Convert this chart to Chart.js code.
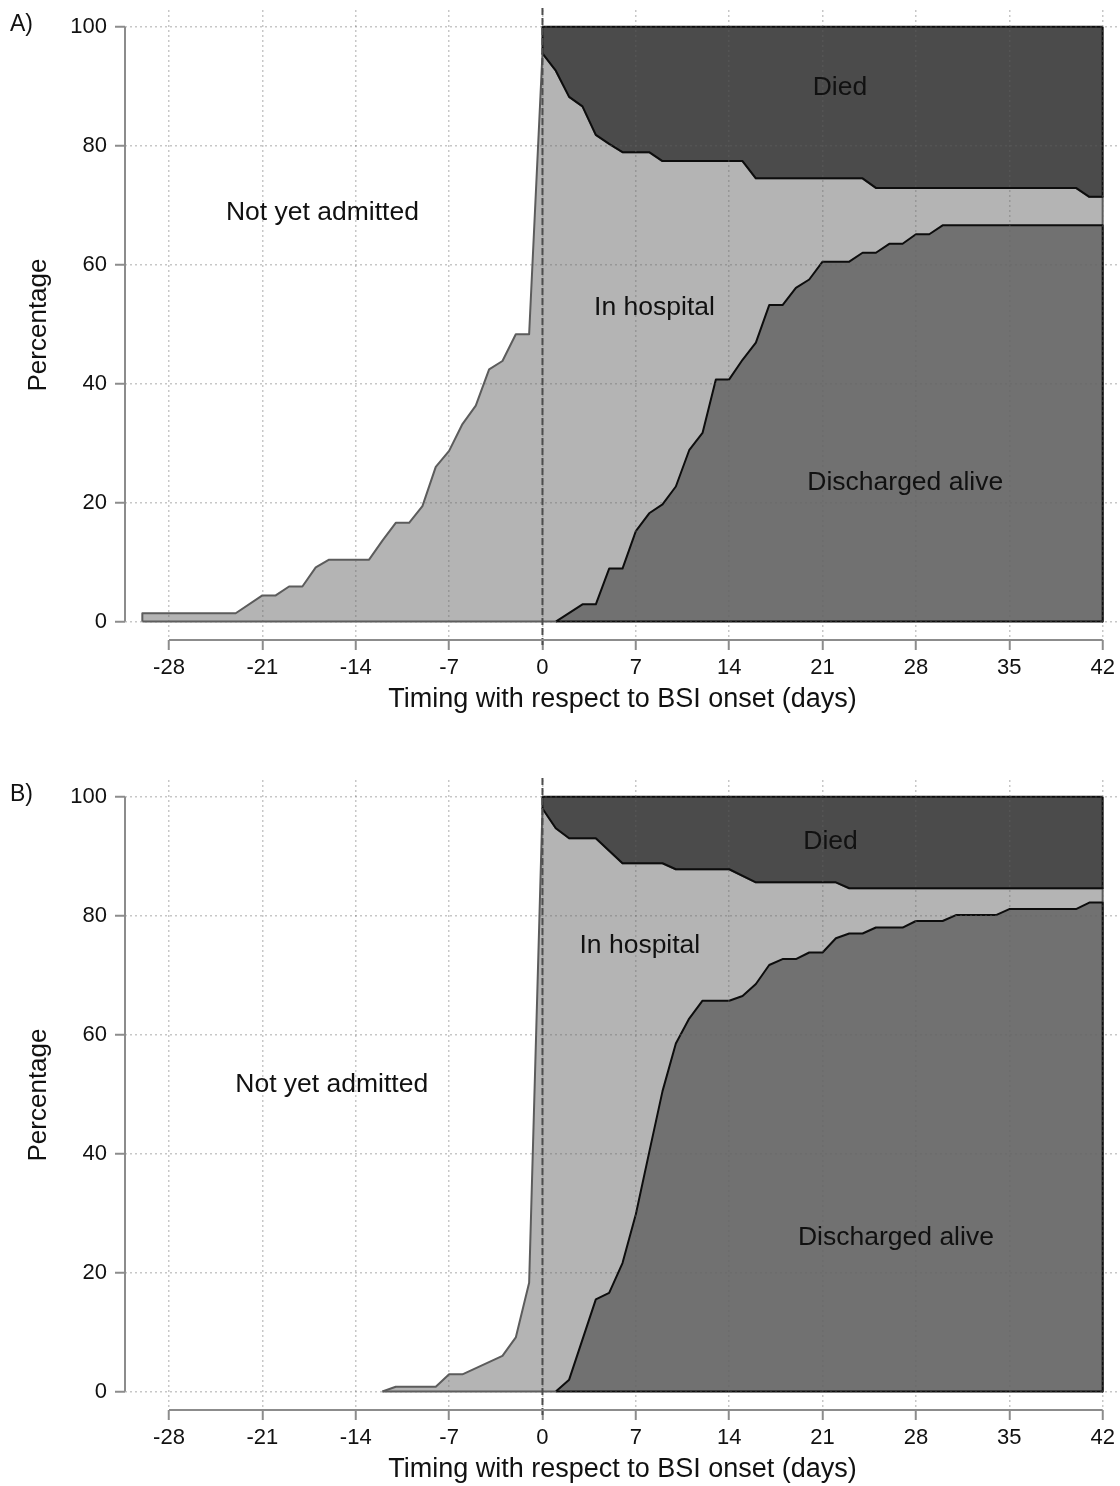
<!DOCTYPE html>
<html>
<head>
<meta charset="utf-8">
<title>Patient status relative to BSI onset</title>
<script src="https://cdn.jsdelivr.net/npm/chart.js@4.4.1/dist/chart.umd.min.js"></script>
<style>
  body { margin: 0; background: #fff; }
  .panel { position: absolute; left: 0; width: 1120px; height: 716px; }
  #panelA { top: 0; }
  #panelB { top: 770px; }
</style>
</head>
<body>
<div class="panel" id="panelA"><canvas id="chartA" width="1120" height="716"></canvas></div>
<div class="panel" id="panelB"><canvas id="chartB" width="1120" height="716"></canvas></div>
<script>
// axis ticks
const xTicks = [-28, -21, -14, -7, 0, 7, 14, 21, 28, 35, 42];
const yTicks = [0, 20, 40, 60, 80, 100];
const onsetDay = 0;

// Panel A - cumulative % admitted before onset
const admitDaysA = [-30, -23, -21, -20, -19, -18, -17, -16, -13, -12, -11, -10, -9, -8, -7, -6, -5, -4, -3, -2, -1];
const admitA = [1.4, 1.4, 4.4, 4.4, 5.9, 5.9, 9.1, 10.4, 10.4, 13.6, 16.6, 16.6, 19.4, 26.0, 28.7, 33.2, 36.3, 42.4, 43.8, 48.3, 48.3];
// Panel A - % alive (top of "In hospital", bottom of "Died")
const diedDaysA = [0, 1, 2, 3, 4, 5, 6, 8, 9, 15, 16, 24, 25, 40, 41, 42];
const aliveA = [95.5, 92.6, 88.2, 86.6, 81.8, 80.3, 78.9, 78.9, 77.4, 77.4, 74.5, 74.5, 72.9, 72.9, 71.4, 71.4];
// Panel A - cumulative % discharged alive
const dischDaysA = [1, 3, 4, 5, 6, 7, 8, 9, 10, 11, 12, 13, 14, 15, 16, 17, 18, 19, 20, 21, 23, 24, 25, 26, 27, 28, 29, 30, 42];
const dischA = [0, 2.9, 2.9, 8.9, 8.9, 15.2, 18.2, 19.7, 22.7, 28.8, 31.7, 40.7, 40.7, 44.0, 46.9, 53.2, 53.2, 56.1, 57.5, 60.5, 60.5, 62.0, 62.0, 63.5, 63.5, 65.1, 65.1, 66.6, 66.6];

// Panel B
const admitDaysB = [-12, -11, -8, -7, -6, -3, -2, -1];
const admitB = [0, 0.8, 0.8, 2.9, 2.9, 6.0, 9.1, 18.3];
const diedDaysB = [0, 1, 2, 4, 6, 9, 10, 14, 16, 22, 23, 42];
const aliveB = [98.0, 94.7, 93.0, 93.0, 88.8, 88.8, 87.8, 87.8, 85.6, 85.6, 84.6, 84.6];
const dischDaysB = [1, 2, 4, 5, 6, 7, 8, 9, 10, 11, 12, 14, 15, 16, 17, 18, 19, 20, 21, 22, 23, 24, 25, 27, 28, 30, 31, 34, 35, 40, 41, 42];
const dischB = [0, 2.0, 15.5, 16.6, 21.6, 29.8, 40.2, 50.5, 58.5, 62.7, 65.7, 65.7, 66.5, 68.5, 71.7, 72.7, 72.7, 73.8, 73.8, 76.2, 77.0, 77.0, 78.0, 78.0, 79.1, 79.1, 80.1, 80.1, 81.1, 81.1, 82.2, 82.2];

const FULL = 100;
const BASE = 0;

Chart.defaults.font.family = '"Liberation Sans", Arial, sans-serif';
Chart.defaults.color = '#111';

// dashed onset line, axis lines over the tick range, region labels
const decorations = {
  id: 'decorations',
  afterDraw(chart, args, opts) {
    const {ctx, chartArea, scales: {x, y}} = chart;
    ctx.save();
    const x0 = x.getPixelForValue(onsetDay);
    ctx.strokeStyle = '#4d4d4d';
    ctx.lineWidth = 2;
    ctx.setLineDash([7, 3]);
    ctx.beginPath();
    ctx.moveTo(x0, chartArea.top - 2);
    ctx.lineTo(x0, chartArea.bottom + 6);
    ctx.stroke();
    ctx.setLineDash([]);

    ctx.strokeStyle = '#8c8c8c';
    ctx.lineWidth = 2;
    ctx.beginPath();
    ctx.moveTo(chartArea.left, y.getPixelForValue(yTicks[0]));
    ctx.lineTo(chartArea.left, y.getPixelForValue(yTicks[yTicks.length - 1]));
    ctx.moveTo(x.getPixelForValue(xTicks[0]), chartArea.bottom);
    ctx.lineTo(x.getPixelForValue(xTicks[xTicks.length - 1]), chartArea.bottom);
    ctx.stroke();

    ctx.fillStyle = '#111';
    ctx.font = '26.5px "Liberation Sans", Arial, sans-serif';
    ctx.textAlign = 'center';
    ctx.textBaseline = 'middle';
    opts.labels.forEach(l => ctx.fillText(l.text, x.getPixelForValue(l.x), y.getPixelForValue(l.y)));

    ctx.textAlign = 'left';
    ctx.font = '23px "Liberation Sans", Arial, sans-serif';
    ctx.fillText(opts.panel, 10, 25);
    ctx.restore();
  }
};

function pts(xs, ys) {
  return xs.map((d, i) => ({x: d, y: ys[i]}));
}

function edge(data, color) {
  return {data, fill: false, borderColor: color, borderWidth: 2, order: 1};
}

function makePanel(canvasId, panel, admitDays, admit, diedDays, alive, dischDays, disch, labels) {
  const lastDay = diedDays[diedDays.length - 1];
  const lightPts = [{x: admitDays[0], y: BASE}].concat(pts(admitDays, admit), pts(diedDays, alive), [{x: lastDay, y: BASE}]);
  const diedPts = [{x: diedDays[0], y: FULL}].concat(pts(diedDays, alive), [{x: lastDay, y: FULL}]);
  const dischPts = pts(dischDays, disch).concat([{x: lastDay, y: BASE}]);

  const gridOpts = {
    z: 1,
    color: 'rgba(100,100,100,0.36)',
    lineWidth: 1.5,
    tickLength: 10,
    tickColor: '#8c8c8c',
    tickWidth: 2,
    tickBorderDash: []
  };

  return new Chart(document.getElementById(canvasId), {
    type: 'line',
    data: {
      datasets: [
        {label: 'In hospital', data: lightPts, fill: {value: BASE}, backgroundColor: '#b4b4b4', borderColor: '#5c5c5c', borderWidth: 2, order: 4},
        {label: 'Died', data: diedPts, fill: {value: FULL}, backgroundColor: '#4b4b4b', borderColor: '#0d0d0d', borderWidth: 2, order: 3},
        {label: 'Discharged alive', data: dischPts, fill: {value: BASE}, backgroundColor: '#717171', borderColor: '#0d0d0d', borderWidth: 2, order: 2},
        edge([{x: diedDays[0], y: FULL}, {x: lastDay, y: FULL}], '#0d0d0d'),
        edge([{x: admitDays[0], y: BASE}, {x: dischDays[0], y: BASE}], '#5c5c5c'),
        edge([{x: dischDays[0], y: BASE}, {x: lastDay, y: BASE}], '#0d0d0d')
      ]
    },
    options: {
      responsive: false,
      devicePixelRatio: 1,
      animation: false,
      events: [],
      layout: {padding: {top: 10, left: 0, right: 0, bottom: 0}},
      elements: {
        point: {radius: 0},
        line: {tension: 0, borderJoinStyle: 'round'}
      },
      plugins: {
        legend: {display: false},
        tooltip: {enabled: false},
        decorations: {labels, panel}
      },
      scales: {
        x: {
          type: 'linear',
          min: -31.3,
          max: 43.3,
          afterBuildTicks: s => { s.ticks = xTicks.map(v => ({value: v})); },
          afterFit: s => { s.height = 76; s.paddingLeft = 0; s.paddingRight = 0; },
          ticks: {font: {size: 22}, color: '#111', padding: 5, maxRotation: 0, autoSkip: false},
          title: {display: true, text: 'Timing with respect to BSI onset (days)', font: {size: 27}, color: '#111', padding: {top: 0, bottom: 0}},
          grid: gridOpts,
          border: {display: false, dash: [2, 3]}
        },
        y: {
          type: 'linear',
          min: -3.1,
          max: 102.8,
          afterBuildTicks: s => { s.ticks = yTicks.map(v => ({value: v})); },
          afterFit: s => { s.width = 125; s.paddingTop = 0; s.paddingBottom = 0; },
          ticks: {font: {size: 22}, color: '#111', padding: 8},
          title: {display: true, text: 'Percentage', font: {size: 26}, color: '#111', padding: {top: 23, bottom: 0}},
          grid: gridOpts,
          border: {display: false, dash: [2, 3]}
        }
      }
    },
    plugins: [decorations]
  });
}

makePanel('chartA', 'A)', admitDaysA, admitA, diedDaysA, aliveA, dischDaysA, dischA, [
  {text: 'Not yet admitted', x: -16.5, y: 68.7},
  {text: 'In hospital', x: 8.4, y: 52.7},
  {text: 'Died', x: 22.3, y: 89.7},
  {text: 'Discharged alive', x: 27.2, y: 23.3}
]);

makePanel('chartB', 'B)', admitDaysB, admitB, diedDaysB, aliveB, dischDaysB, dischB, [
  {text: 'Not yet admitted', x: -15.8, y: 51.5},
  {text: 'In hospital', x: 7.3, y: 74.9},
  {text: 'Died', x: 21.6, y: 92.4},
  {text: 'Discharged alive', x: 26.5, y: 25.8}
]);
</script>
</body>
</html>
